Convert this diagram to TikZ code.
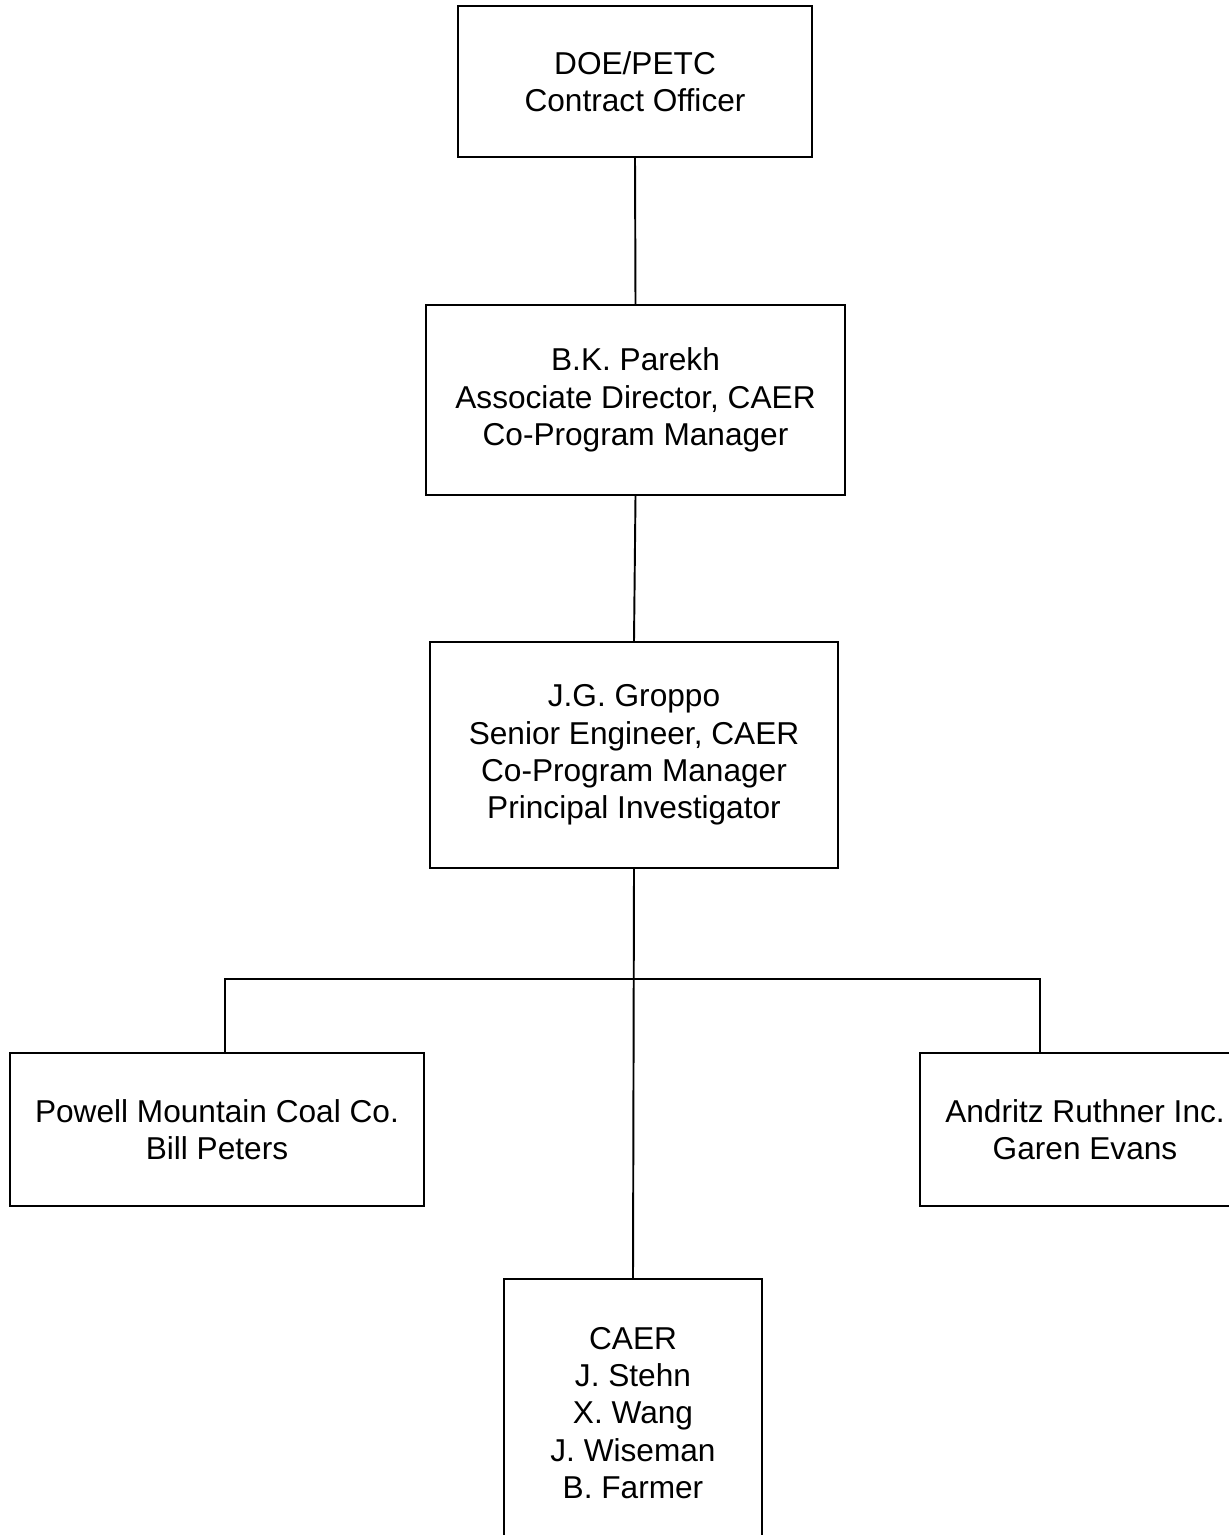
\documentclass[tikz,border=0pt]{standalone}
\usepackage{fontspec}
\setmainfont{Liberation Sans}
\usepackage{tikz}
\usetikzlibrary{positioning}
\usetikzlibrary{calc}
\tikzset{orgbox/.style={draw, line width=1.2pt, align=center, inner sep=0pt, font=\fontsize{18}{21.2}\selectfont}}
\tikzset{link/.style={line width=1.1pt}}

\begin{document}
\begin{tikzpicture}[x=0.02cm,y=-0.02cm]
\useasboundingbox (0,0) rectangle (1229,1535);

\node[orgbox, minimum width=7.08cm, minimum height=3.02cm] (doe) at (635,81.5) {DOE/PETC\\Contract Officer};
\node[orgbox, minimum width=8.38cm, minimum height=3.8cm] (parekh) at (635.5,400) {B.K. Parekh\\Associate Director, CAER\\Co-Program Manager};
\node[orgbox, minimum width=8.16cm, minimum height=4.52cm] (groppo) at (634,755) {J.G. Groppo\\Senior Engineer, CAER\\Co-Program Manager\\Principal Investigator};
\node[orgbox, minimum width=8.28cm, minimum height=3.06cm] (powell) at (217,1129.5) {Powell Mountain Coal Co.\\Bill Peters};
\node[orgbox, minimum width=6.6cm, minimum height=3.06cm] (andritz) at (1085,1129.5) {Andritz Ruthner Inc.\\Garen Evans};
\node[orgbox, minimum width=5.16cm, minimum height=5.36cm] (caer) at (633,1413) {CAER\\J. Stehn\\X. Wang\\J. Wiseman\\B. Farmer};

\coordinate (busL) at (225,979);
\coordinate (busR) at (1040,979);

\draw[link] (doe.south) -- (parekh.north);
\draw[link] (parekh.south) -- (groppo.north);
\draw[link] (groppo.south) -- (caer.north);
\draw[link] (powell.north -| busL) -- (busL) -- (busR) -- (andritz.north -| busR); %branches
\end{tikzpicture}
\end{document}
